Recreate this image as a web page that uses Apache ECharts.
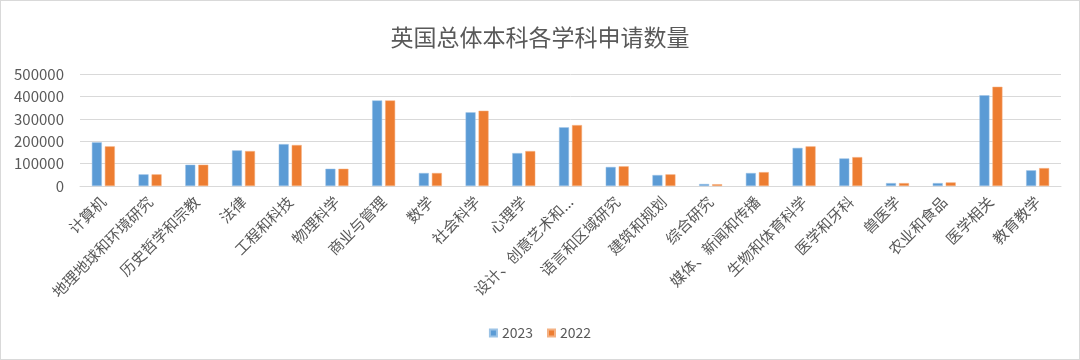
<!DOCTYPE html>
<html>
<head>
<meta charset="utf-8">
<script src="https://cdn.jsdelivr.net/npm/echarts@6/dist/echarts.min.js"></script>
<style>
html,body{margin:0;padding:0;background:#fff;}
#c{width:1078px;height:358px;border:1px solid #d9d9d9;}
</style>
</head>
<body>
<div id="c"></div>
<script>
const categories = ['计算机','地理地球和环境研究','历史哲学和宗教','法律','工程和科技','物理科学','商业与管理','数学','社会科学','心理学','设计、创意艺术和...','语言和区域研究','建筑和规划','综合研究','媒体、新闻和传播','生物和体育科学','医学和牙科','兽医学','农业和食品','医学相关','教育教学'];
const values2023 = [195000, 52000, 95000, 159000, 187000, 77000, 382000, 58000, 329000, 147000, 262000, 85000, 49000, 9000, 58000, 170000, 123000, 13000, 13000, 405000, 70000];
const values2022 = [177000, 52000, 95000, 156000, 183000, 77000, 382000, 58000, 336000, 156000, 272000, 88000, 52000, 8000, 62000, 177000, 129000, 13000, 16000, 443000, 80000];
const yTicks = [0, 100000, 200000, 300000, 400000, 500000];

const font = '"Noto Sans CJK SC", "Noto Sans", sans-serif';
const chart = echarts.init(document.getElementById('c'));
chart.setOption({
  animation: false,
  textStyle: {fontFamily: font},
  title: {
    text: '英国总体本科各学科申请数量',
    left: 'center', top: 20,
    textStyle: {fontSize: 23, fontWeight: 'normal', color: '#595959', fontFamily: font}
  },
  legend: {
    bottom: 14, left: 'center',
    itemWidth: 7, itemHeight: 7, itemGap: 14,
    icon: 'rect',
    textStyle: {fontSize: 14, color: '#595959', fontFamily: font},
    data: ['2023', '2022']
  },
  grid: {left: 79, right: 18, top: 73, bottom: 173},
  xAxis: {
    type: 'category',
    data: categories,
    axisLine: {lineStyle: {color: '#d9d9d9', width: 1}},
    axisTick: {show: false},
    axisLabel: {rotate: 45, fontSize: 15, color: '#595959', margin: 13, interval: 0, fontFamily: font}
  },
  yAxis: {
    type: 'value',
    min: yTicks[0], max: yTicks[yTicks.length - 1], interval: 100000,
    axisLine: {show: false},
    axisTick: {show: false},
    splitLine: {lineStyle: {color: '#d9d9d9', width: 1}},
    axisLabel: {fontSize: 15, color: '#595959', margin: 16, fontFamily: font,
      formatter: function (v) { return String(v); }}
  },
  series: [
    {name: '2023', type: 'bar', data: values2023, barWidth: 10, barGap: '30%',
     itemStyle: {color: '#5B9BD5', borderColor: '#9cc3e6', borderWidth: 0.5}},
    {name: '2022', type: 'bar', data: values2022, barWidth: 10,
     itemStyle: {color: '#ED7D31', borderColor: '#f4b183', borderWidth: 0.5}}
  ]
});
</script>
</body>
</html>
